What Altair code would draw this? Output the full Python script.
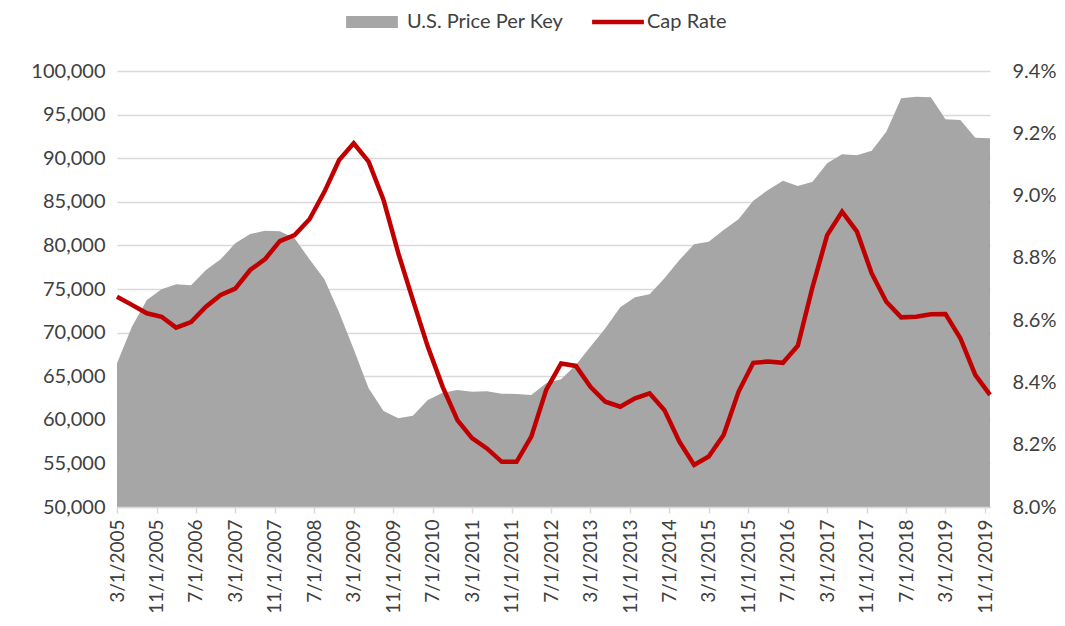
import altair as alt
import pandas as pd

# Quarterly observation dates (Mar, Jun, Sep, Dec), 2005 - 2019
years = list(range(2005, 2020))
months = [3, 6, 9, 12]
dates = [f"{y}-{m:02d}-01" for y in years for m in months]

price_per_key = [
    66480, 70680, 73740, 74960, 75540, 75420, 77180, 78400, 80240, 81310,
    81690, 81620, 80810, 78400, 76110, 72300, 68100, 63610, 61010, 60170,
    60470, 62270, 63110, 63420, 63230, 63270, 62990, 62960, 62840, 64180,
    64640, 66280, 68380, 70490, 72900, 74050, 74390, 76230, 78330, 80120,
    80430, 81770, 82990, 85130, 86350, 87420, 86810, 87310, 89410, 90440,
    90330, 90860, 93040, 96870, 97060, 96980, 94460, 94380, 92350, 92280,
]

cap_rate_pct = [
    8.675, 8.649, 8.622, 8.611, 8.576, 8.594, 8.643, 8.681, 8.701, 8.761,
    8.796, 8.854, 8.873, 8.924, 9.012, 9.114, 9.168, 9.109, 8.986, 8.815,
    8.665, 8.515, 8.386, 8.279, 8.221, 8.188, 8.145, 8.145, 8.226, 8.376,
    8.461, 8.453, 8.386, 8.338, 8.322, 8.349, 8.365, 8.311, 8.210, 8.135,
    8.162, 8.231, 8.370, 8.463, 8.467, 8.463, 8.518, 8.707, 8.873, 8.948,
    8.884, 8.750, 8.659, 8.609, 8.611, 8.619, 8.620, 8.542, 8.424, 8.360,
]

x_tick_dates = [
    "2005-03-01", "2005-11-01", "2006-07-01", "2007-03-01", "2007-11-01",
    "2008-07-01", "2009-03-01", "2009-11-01", "2010-07-01", "2011-03-01",
    "2011-11-01", "2012-07-01", "2013-03-01", "2013-11-01", "2014-07-01",
    "2015-03-01", "2015-11-01", "2016-07-01", "2017-03-01", "2017-11-01",
    "2018-07-01", "2019-03-01", "2019-11-01",
]
left_ticks = [50000, 55000, 60000, 65000, 70000, 75000, 80000, 85000, 90000, 95000, 100000]
right_ticks = [0.080, 0.082, 0.084, 0.086, 0.088, 0.090, 0.092, 0.094]

series_area = "U.S. Price Per Key"
series_line = "Cap Rate"

df = pd.DataFrame({
    "date": dates,
    "price": price_per_key,
    "cap": [v / 100 for v in cap_rate_pct],
    "s_area": series_area,
    "s_line": series_line,
})


def ms(s):
    return int(pd.Timestamp(s, tz="UTC").value // 10**6)


tick_ms = [ms(d) for d in x_tick_dates]
x_domain = [ms(dates[0]), ms(dates[-1])]

FONT = "Lato"
TXT = "#404040"
GRID = "#d9d9d9"

x_enc = alt.X(
    "date:T",
    scale=alt.Scale(type="utc", domain=x_domain, nice=False),
    axis=alt.Axis(
        values=tick_ms, format="%-m/%-d/%Y", labelAngle=-90, title=None,
        grid=False, domainColor=GRID, domainWidth=1.5, tickColor=GRID,
        tickWidth=1.5, tickSize=6, labelPadding=6, labelFont=FONT,
        labelFontSize=19, labelColor=TXT, labelOverlap=False, labelFlush=False,
        zindex=1,
    ),
)

area = alt.Chart(df).mark_area(opacity=1, interpolate="linear").encode(
    x=x_enc,
    y=alt.Y(
        "price:Q",
        scale=alt.Scale(domain=[50000, 100000], nice=False, zero=False),
        axis=alt.Axis(
            values=left_ticks, format=",d", title=None, orient="left",
            grid=True, gridColor=GRID, gridWidth=1.5, domain=False, ticks=False,
            labelPadding=12, labelFont=FONT, labelFontSize=20, labelColor=TXT,
        ),
    ),
    y2=alt.datum(50000),
    color=alt.Color(
        "s_area:N",
        scale=alt.Scale(domain=[series_area], range=["#a6a6a6"]),
        legend=alt.Legend(
            orient="none", legendX=245, legendY=-59, title=None,
            symbolType="M-3.7,-0.86H3.7V0.86H-3.7Z", symbolSize=196,
            symbolOpacity=1, symbolStrokeWidth=0, labelLimit=0,
            labelFont=FONT, labelFontSize=20, labelColor=TXT, labelOffset=25,
        ),
    ),
)

line = alt.Chart(df).mark_line(strokeWidth=4.5, interpolate="linear").encode(
    x=x_enc,
    y=alt.Y(
        "cap:Q",
        scale=alt.Scale(domain=[0.080, 0.094], nice=False, zero=False),
        axis=alt.Axis(
            values=right_ticks, format=".1%", title=None, orient="right",
            grid=False, domain=False, ticks=False, labelPadding=22,
            labelFont=FONT, labelFontSize=20, labelColor=TXT,
        ),
    ),
    color=alt.Color(
        "s_line:N",
        scale=alt.Scale(domain=[series_line], range=["#c00000"]),
        legend=alt.Legend(
            orient="none", legendX=491, legendY=-59, title=None,
            symbolType="M-3.7,0H3.7", symbolSize=196, symbolStrokeWidth=4.5,
            symbolFillColor="transparent", labelLimit=0,
            labelFont=FONT, labelFontSize=20, labelColor=TXT, labelOffset=19,
        ),
    ),
)

chart = (
    alt.layer(area, line)
    .resolve_scale(y="independent", color="independent")
    .resolve_legend(color="independent")
    .properties(
        width=873, height=436,
        padding={"left": 109, "top": 63, "right": 67, "bottom": 111},
        autosize=alt.AutoSizeParams(type="none"),
        background="white",
    )
    .configure_view(stroke=None)
)

chart.save("out.html", embed_options={"renderer": "svg", "actions": False})
